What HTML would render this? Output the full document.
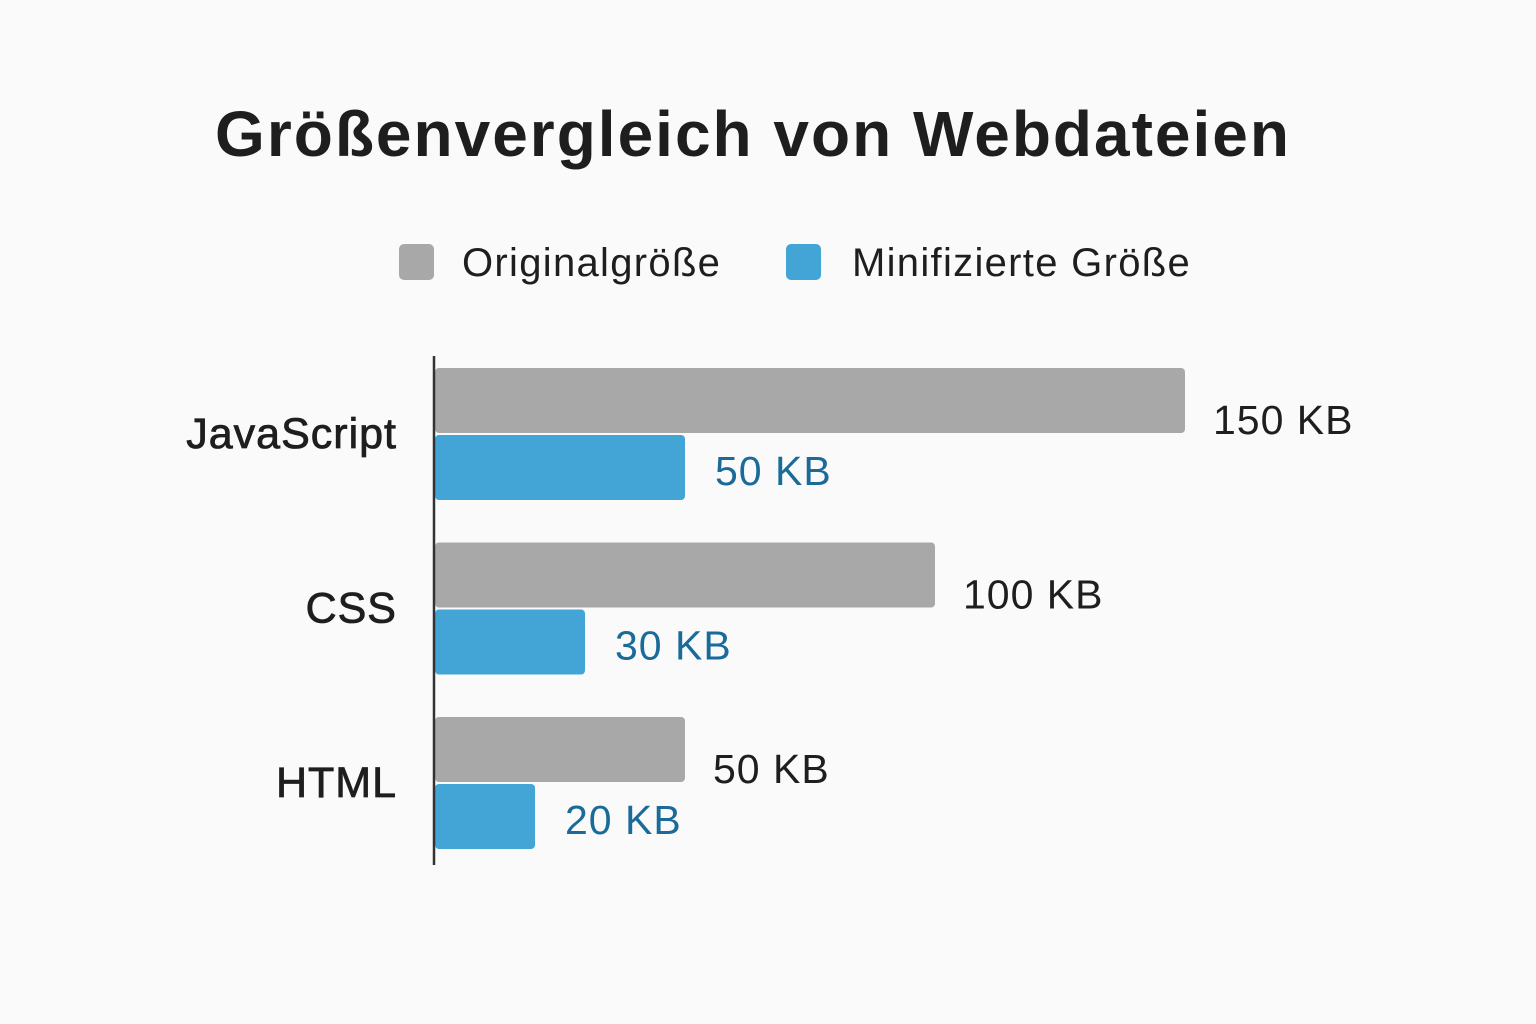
<!DOCTYPE html>
<html><head><meta charset="utf-8"><style>
html,body{margin:0;padding:0;background:#fafafa;}
svg{display:block;font-family:"Liberation Sans",sans-serif;}
</style></head><body>
<svg id="chart" width="1536" height="1024" viewBox="0 0 1536 1024">
<rect width="1536" height="1024" fill="#fafafa"/>
<text x="753" y="156" text-anchor="middle" font-size="64" font-weight="bold" letter-spacing="2" fill="#1e1e1e">Größenvergleich von Webdateien</text>
<g>
<rect x="399" y="244" width="35" height="36" rx="5" fill="#a8a8a8"/>
<text x="462" y="276" font-size="40" letter-spacing="1.3" fill="#1e1e1e">Originalgröße</text>
<rect x="786" y="244" width="35" height="36" rx="5" fill="#42a5d6"/>
<text x="852" y="276" font-size="40" letter-spacing="1.3" fill="#1e1e1e">Minifizierte Größe</text>
</g>
<g id="bars"></g>
<line x1="434" y1="356" x2="434" y2="865" stroke="#333" stroke-width="2.5"/>
</svg>
<script>
const categories = ["JavaScript", "CSS", "HTML"];
const originalValues = [150, 100, 50];
const minifiedValues = [50, 30, 20];
const unit = "KB";

const x0 = 435, pxPerKB = 5.0;
function xScale(v){ return v * pxPerKB; }
const groupTop0 = 368, groupStep = 174.5, barH = 65, gap = 2;
function yGroup(i){ return groupTop0 + i * groupStep; }

const ns = "http://www.w3.org/2000/svg";
const g = document.getElementById("bars");
function mk(tag, attrs){ const e=document.createElementNS(ns,tag); for(const k in attrs) e.setAttribute(k,attrs[k]); g.appendChild(e); return e; }

categories.forEach((c,i)=>{
  const top = yGroup(i);
  const lab = mk("text",{x:397,y:top+80,"text-anchor":"end","font-size":43,"letter-spacing":1,fill:"#1e1e1e",stroke:"#1e1e1e","stroke-width":0.8});
  lab.textContent = c;
  
  

  const w1 = xScale(originalValues[i]);
  const b1 = mk("rect",{x:x0,y:top,width:w1,height:barH,rx:4,fill:"#a8a8a8"});
  
  
  const t1 = mk("text",{x:x0+w1+28,y:top+66,"font-size":41,"letter-spacing":1,fill:"#1e1e1e"});
  t1.textContent = originalValues[i] + " " + unit;
  
  

  const w2 = xScale(minifiedValues[i]);
  const b2 = mk("rect",{x:x0,y:top+barH+gap,width:w2,height:barH,rx:4,fill:"#42a5d6"});
  
  
  const t2 = mk("text",{x:x0+w2+30,y:top+barH+gap+50,"font-size":41,"letter-spacing":1,fill:"#1b6b9a"});
  t2.textContent = minifiedValues[i] + " " + unit;
  
  
});
</script>
</body></html>
